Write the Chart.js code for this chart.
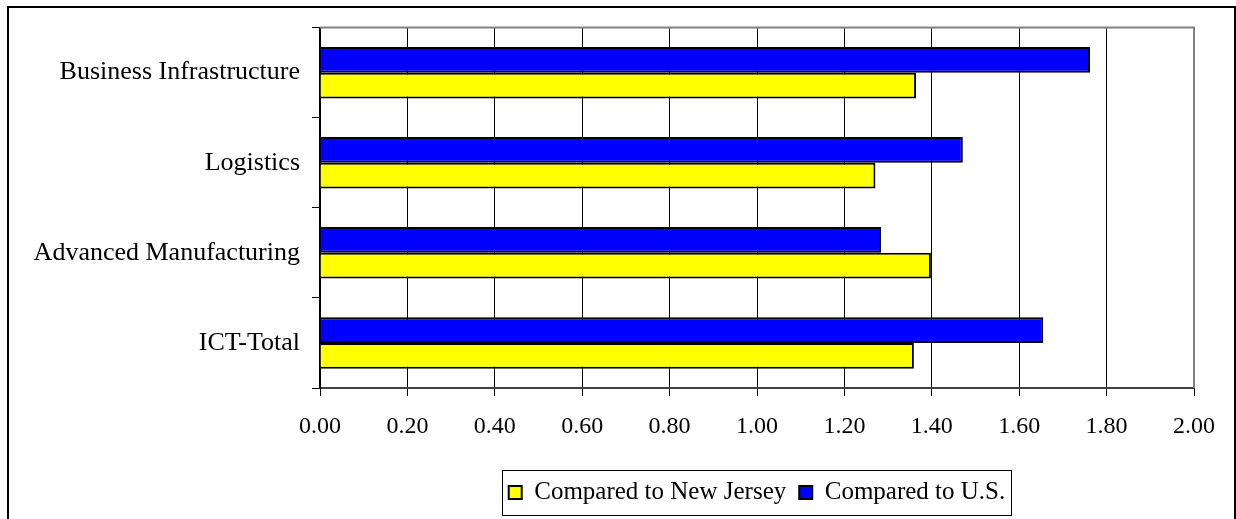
<!DOCTYPE html>
<html>
<head>
<meta charset="utf-8">
<script src="https://cdn.jsdelivr.net/npm/chart.js@4/dist/chart.umd.min.js"></script>
<style>
  html, body { margin: 0; padding: 0; background: #fff; }
  #wrap { position: relative; width: 1236px; height: 519px; }
</style>
</head>
<body>
<div id="wrap"><canvas id="chart" width="1236" height="519"></canvas></div>
<script>
const categories = ["Business Infrastructure", "Logistics", "Advanced Manufacturing", "ICT-Total"];
const comparedToUS = [1.762, 1.471, 1.284, 1.655];
const comparedToNJ = [1.364, 1.271, 1.398, 1.359];
const xTicks = { min: 0, max: 2, step: 0.2 };

const serif = "'Liberation Serif', 'Times New Roman', serif";

// outer frame + gray top/right edge of the plot area + box round the legend
const framePlugin = {
  id: "frame",
  beforeDraw: (chart) => {
    const ctx = chart.ctx;
    ctx.save();
    ctx.fillStyle = "#fff";
    ctx.fillRect(0, 0, chart.width, chart.height);
    ctx.strokeStyle = "#000";
    ctx.lineWidth = 2;
    ctx.strokeRect(8, 7, 1227, 530);
    ctx.restore();
  },
  beforeDatasetsDraw: (chart) => {
    const { ctx, chartArea } = chart;
    ctx.save();
    ctx.strokeStyle = "#808080";
    ctx.lineWidth = 2;
    ctx.beginPath();
    ctx.moveTo(chartArea.left, chartArea.top);
    ctx.lineTo(chartArea.right, chartArea.top);
    ctx.lineTo(chartArea.right, chartArea.bottom);
    ctx.stroke();
    ctx.restore();
  },
  afterDraw: (chart) => {
    const lg = chart.legend;
    if (!lg || !lg.legendHitBoxes.length) return;
    const boxes = lg.legendHitBoxes;
    const first = boxes[0];
    const last = boxes[boxes.length - 1];
    const cy = first.top + first.height / 2;
    const ctx = chart.ctx;
    ctx.save();
    ctx.strokeStyle = "#000";
    ctx.lineWidth = 1;
    const left = Math.round(first.left - 7) + 0.5;
    const right = Math.round(last.left + last.width + 6) + 0.5;
    const top = Math.round(cy - 22.5) + 0.5;
    ctx.strokeRect(left, top, right - left, 45);
    ctx.restore();
  },
};

const ctx = document.getElementById("chart").getContext("2d");
new Chart(ctx, {
  type: "bar",
  data: {
    labels: categories,
    datasets: [
      {
        label: "Compared to U.S.",
        data: comparedToUS,
        backgroundColor: "#0000ff",
        borderColor: "#000",
        borderWidth: 2,
        barPercentage: 1,
        categoryPercentage: 0.572,
      },
      {
        label: "Compared to New Jersey",
        data: comparedToNJ,
        backgroundColor: "#ffff00",
        borderColor: "#000",
        borderWidth: 2,
        barPercentage: 1,
        categoryPercentage: 0.572,
      },
    ],
  },
  options: {
    indexAxis: "y",
    responsive: false,
    animation: false,
    layout: { padding: { left: 0, right: 42, top: 27, bottom: 4 } },
    plugins: {
      tooltip: { enabled: false },
      legend: {
        position: "bottom",
        fullSize: false,
        reverse: true,
        labels: {
          color: "#000",
          font: { family: serif, size: 25 },
          boxWidth: 13,
          boxHeight: 13,
          padding: 13,
          useBorderRadius: false,
        },
      },
    },
    scales: {
      x: {
        min: xTicks.min,
        max: xTicks.max,
        afterBuildTicks: (scale) => {
          const t = [];
          for (let v = xTicks.min; v <= xTicks.max + 1e-9; v += xTicks.step) t.push({ value: +v.toFixed(2) });
          scale.ticks = t;
        },
        afterFit: (scale) => { scale.height = 79; },
        grid: { color: "#000", lineWidth: 1, tickLength: 8, drawTicks: true },
        border: { color: "#404040", width: 2 },
        ticks: {
          color: "#000",
          font: { family: serif, size: 24 },
          padding: 16,
          maxRotation: 0,
          callback: (v) => Number(v).toFixed(2),
        },
      },
      y: {
        afterFit: (scale) => { scale.width = 320; },
        grid: { drawOnChartArea: false, color: "#000", tickLength: 8 },
        border: { color: "#000", width: 2 },
        ticks: { color: "#000", font: { family: serif, size: 26 }, padding: 12 },
      },
    },
  },
  plugins: [framePlugin],
});
</script>
</body>
</html>
